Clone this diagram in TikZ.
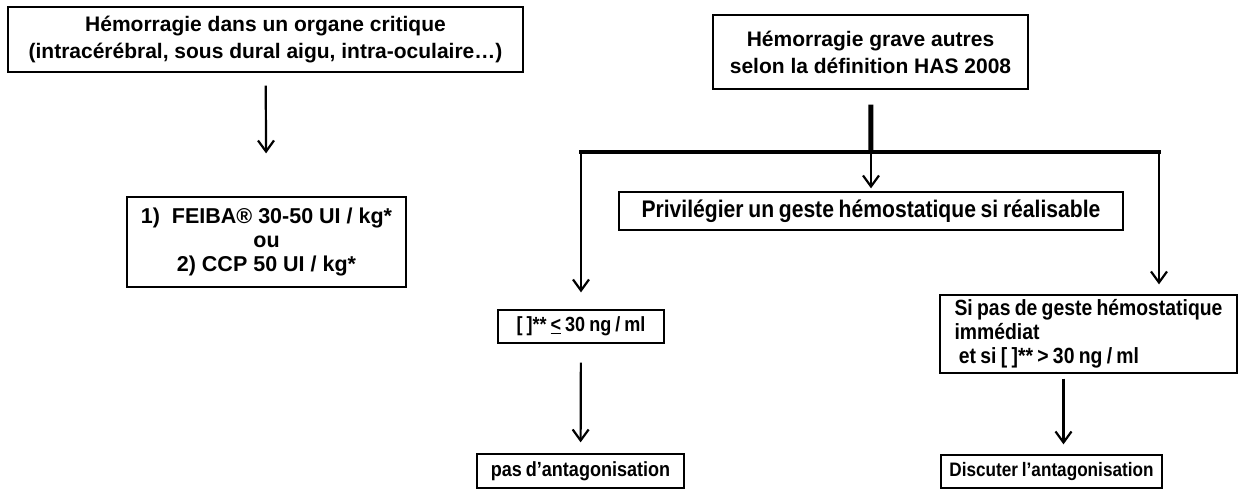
\documentclass[tikz,border=0pt]{standalone}
\usepackage{fontspec}
\setmainfont{Liberation Sans}
\newfontfamily\etroit[FakeStretch=0.88,WordSpace=0.8]{Liberation Sans}
\usepackage{tikz}
\usetikzlibrary{arrows.meta,positioning}

\tikzset{
  boite/.style={draw,line width=1.3pt,inner sep=0pt,align=center,
    font=\bfseries\fontsize{21}{27}\selectfont},
  fleche/.style={line width=2.2pt,-{Straight Barb[length=11pt,width=16pt,line width=2.2pt]}},
  barre/.style={line width=4pt}
}

\begin{document}
\begin{tikzpicture}[x=1pt,y=-1pt]
\useasboundingbox (0,0) rectangle (1240,490);
%left branch
\node[boite,minimum width=515pt,minimum height=65pt] (crit) at (265.5,39.5)
  {H\'emorragie dans un organe critique\\(intrac\'er\'ebral, sous dural aigu, intra-oculaire\ldots)};
\node[boite,minimum width=279pt,minimum height=90pt,font=\bfseries\fontsize{21.5}{24}\selectfont] (feiba) at (266.5,242)
  {1)\ \ FEIBA\textregistered{} 30-50 UI / kg*\\ou\\2) CCP 50 UI / kg*};
\draw[fleche,shorten <=13pt,shorten >=43pt] (crit) -- (feiba);
%right branch
\node[boite,minimum width=315pt,minimum height=74pt] (has) at (870.5,52)
  {H\'emorragie grave autres\\selon la d\'efinition HAS 2008};
\coordinate (bar) at (871,152); \coordinate (barL) at (581,152); \coordinate (barR) at (1159,152);
\draw[line width=5pt,shorten <=15pt] (has) -- (bar);
\draw[barre,line cap=rect] (barL) -- (barR);
\node[boite,minimum width=504pt,minimum height=38pt,font=\etroit\bfseries\fontsize{24}{26}\selectfont] (priv) at (871,211)
  {Privil\'egier un geste h\'emostatique si r\'ealisable};
\draw[fleche,shorten >=3pt] (bar) -- (priv);
%concentration <= 30
\node[boite,minimum width=166pt,minimum height=33pt,font=\etroit\bfseries\fontsize{20.5}{24}\selectfont] (inf) at (581,326.5)
  {[ ]** \underline{<} 30 ng / ml};
\draw[fleche,shorten >=17pt] (barL) -- (inf);
\node[boite,minimum width=207pt,minimum height=34pt,font=\etroit\bfseries\fontsize{20.5}{24}\selectfont] (pas) at (580.5,471)
  {pas d’antagonisation};
\draw[fleche,shorten <=19pt,shorten >=11pt] (inf) -- (pas);
%concentration > 30
\node[boite,minimum width=297pt,minimum height=78pt,align=left,
  font=\etroit\bfseries\fontsize{22}{24}\selectfont] (sup) at (1088.5,334)
  {Si pas de geste h\'emostatique\hspace{14pt}\\imm\'ediat\\\ et si [ ]** > 30 ng / ml};
\draw[fleche,shorten >=10pt] (barR) -- (barR |- sup.north);
\node[boite,minimum width=221pt,minimum height=33pt,font=\etroit\bfseries\fontsize{19.5}{24}\selectfont] (disc) at (1051.5,471.5)
  {Discuter l’antagonisation};
\draw[fleche,shorten <=5pt,shorten >=10pt] ([xshift=12pt]sup.south -| disc.north) -- ([xshift=12pt]disc.north);
\end{tikzpicture}
\end{document}
